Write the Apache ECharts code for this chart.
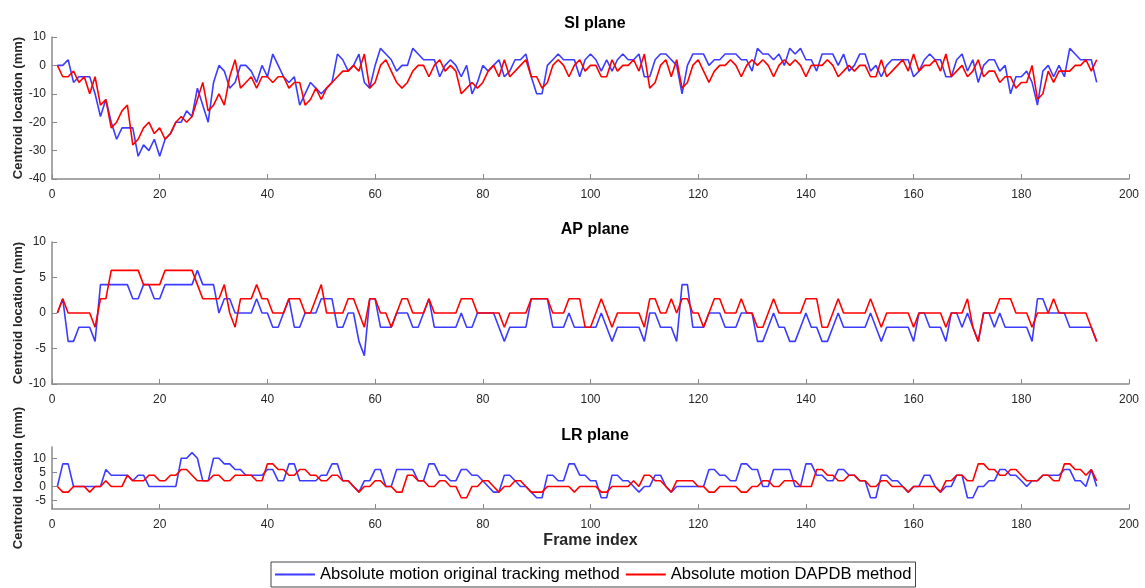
<!DOCTYPE html>
<html>
<head>
<meta charset="utf-8">
<script src="https://cdn.jsdelivr.net/npm/echarts@6/dist/echarts.min.js"></script>
<style>html,body{margin:0;padding:0;background:#fff;}#c{width:1145px;height:588px;}</style>
</head>
<body>
<div id="c"></div>
<script>
// Frame indices 1..194
const frames = [];
for (let i = 1; i <= 194; i++) frames.push(i);

const xTicks = [0, 20, 40, 60, 80, 100, 120, 140, 160, 180, 200];
const panelTitles = ['SI plane', 'AP plane', 'LR plane'];
const seriesNames = ['Absolute motion original tracking method', 'Absolute motion DAPDB method'];

const siOriginal = [0,0,2,-6,-4,-4,-4,-10,-18,-12, -20,-26,-22,-22,-22,-32,-28,-30,-26,-32, -26,-24,-20,-20,-16,-18,-8,-14,-20,-6, 0,-2,-8,-6,0,0,-2,-6,0,-4, 4,0,-4,-6,-4,-14,-10,-6,-8,-10,
  -8,-6,4,2,-2,0,4,-6,-8,0, 6,4,2,-2,0,0,6,4,2,2, 2,-4,0,2,0,-4,0,-10,-6,0, -2,0,2,-4,-2,2,2,4,-4,-10, -10,0,2,4,2,2,2,-4,2,4,
  2,-2,2,-2,2,4,2,2,4,-4, -4,2,4,4,2,0,-10,0,4,4, 4,0,2,2,4,4,4,2,2,-2, 6,4,4,2,4,0,6,4,6,2, 2,-2,4,4,4,0,4,-2,0,4,
  4,-2,0,-4,0,2,2,2,2,-4, -2,2,4,2,2,-4,-4,2,4,-2, 2,-6,0,2,2,-2,0,-10,-4,-4, -2,-6,-14,-2,0,-4,0,-4,6,4, 2,2,2,-6];
const siDapdb = [0,-4,-4,-2,-6,-4,-10,-4,-14,-12, -22,-20,-16,-14,-28,-26,-22,-20,-24,-22, -26,-24,-20,-18,-20,-18,-12,-6,-16,-14, -10,-14,-4,2,-8,-6,-4,-8,-4,-4, -6,-4,-4,-8,-6,-6,-14,-12,-8,-12,
  -8,-6,-4,-2,-2,0,-2,4,-8,-6, 0,2,-2,-6,-8,-6,-2,0,0,-4, 0,2,-2,0,-2,-10,-8,-6,-8,-6, -2,0,-4,2,-4,-2,0,2,-4,-4, -8,-6,0,2,0,-4,0,2,-2,0,
  0,-4,-4,2,-2,0,0,2,-2,4, -8,-6,0,2,-4,2,-8,-6,0,2, -2,-6,-2,0,0,2,0,-4,0,2, 0,2,0,-4,0,2,0,2,0,-4, 0,0,0,2,0,-4,-2,0,-2,0,
  0,-4,-4,2,-4,-2,0,2,-2,4, -2,0,0,2,-2,4,-4,-2,0,-4, -2,2,-4,-2,-2,-6,-4,-4,-8,-6, -6,0,-12,-10,-2,-6,-2,-2,-2,0, 0,2,-2,2];

const apOriginal = [0,2,-4,-4,-2,-2,-2,-4,4,4, 4,4,4,4,2,2,4,4,2,2, 4,4,4,4,4,4,6,4,4,4, 0,2,2,0,0,0,0,2,0,0, -2,-2,0,2,-2,-2,0,0,0,2,
  2,2,-2,-2,0,0,-4,-6,2,2, -2,-2,-2,0,0,0,-2,-2,0,2, -2,-2,-2,-2,-2,0,-2,-2,0,0, 0,0,-2,-4,-2,-2,-2,-2,2,2, 2,2,-2,-2,-2,0,-2,-2,-2,-2,
  -2,0,-2,-4,-2,-2,-2,-2,-2,-4, 0,0,-2,-2,-2,-4,4,4,-2,-2, -2,0,0,0,-2,-2,-2,0,0,0, -4,-4,-2,0,-2,-2,-4,-4,-2,0, -2,-2,-4,-4,-2,0,-2,-2,-2,-2,
  -2,0,-2,-4,-2,-2,-2,-2,-2,-4, 0,0,-2,-2,-2,-4,0,0,-2,0, -2,-4,0,0,-2,0,-2,-2,-2,-2, -2,-4,2,2,0,0,0,0,-2,-2, -2,-2,-2,-4];
const apDapdb = [0,2,0,0,0,0,0,-2,2,2, 6,6,6,6,6,6,4,4,4,4, 6,6,6,6,6,6,4,2,2,2, 2,4,0,-2,2,2,2,4,2,2, 0,0,0,2,2,2,0,0,2,4,
  0,0,0,0,2,2,0,-2,2,2, 0,0,-2,0,2,2,0,0,0,2, 0,0,0,0,0,2,2,2,0,0, 0,0,0,-2,0,0,0,0,2,2, 2,2,0,0,0,2,2,2,-2,-2,
  0,2,0,-2,0,0,0,0,0,-2, 2,2,0,0,2,0,2,2,0,0, -2,0,2,2,0,0,0,2,0,0, -2,-2,0,2,0,0,0,0,0,2, 2,2,-2,-2,0,2,0,0,0,0,
  0,2,0,-2,0,0,0,0,0,-2, 0,0,0,0,0,-2,0,0,0,2, -2,-4,0,0,0,2,2,2,0,0, 0,-2,0,0,0,2,0,0,0,0, 0,0,-2,-4];

const lrOriginal = [0,8,8,0,0,0,0,0,0,6, 4,4,4,4,2,4,4,0,0,0, 0,0,0,10,10,12,10,2,2,10, 10,8,8,6,6,4,4,4,4,6, 6,2,2,8,8,2,2,2,2,4,
  4,8,8,2,2,0,-2,2,2,6, 6,0,0,6,6,6,6,2,2,8, 8,4,4,2,2,6,6,4,4,2, 0,-2,-2,4,4,2,0,0,-2,-4, -4,4,4,2,2,8,8,4,4,2,
  2,-4,-4,4,4,2,2,0,-2,0, 0,4,4,0,-2,0,0,0,0,0, 0,6,6,4,4,2,2,8,8,6, 6,0,0,6,6,6,6,0,0,8, 8,4,4,2,2,6,6,4,4,2,
  2,-4,-4,4,4,2,2,0,-2,0, 0,4,4,0,-2,0,0,4,4,-4, -4,0,0,2,2,6,6,4,4,2, 0,2,2,4,4,4,4,6,6,2, 2,0,6,0];
const lrDapdb = [0,-2,-2,0,0,0,-2,0,0,2, 0,0,0,4,2,2,2,4,4,2, 2,4,4,6,6,4,2,2,2,4, 4,2,2,4,4,4,4,2,2,8, 8,6,6,4,4,6,6,4,4,2,
  2,4,4,2,2,0,-2,0,0,2, 2,0,0,-2,-2,4,4,2,2,0, 0,2,2,0,0,-4,-4,0,0,2, 2,0,-2,0,0,2,2,0,-2,-2, -2,0,0,0,0,0,-2,0,0,0,
  0,-2,-2,0,0,0,0,2,0,4, 4,2,2,0,-2,2,2,2,2,0, 0,-2,-2,0,0,0,0,-2,-2,0, 0,2,2,0,0,2,2,2,0,0, 0,6,6,4,4,2,2,4,4,2,
  2,0,0,2,2,0,0,0,-2,0, 0,0,0,0,-2,2,2,4,4,2, 2,8,8,6,6,4,4,6,6,4, 2,2,2,4,4,2,2,8,8,6, 6,4,6,2];

function pairs(vals) { return frames.map((f, i) => [f, vals[i]]); }

const BLUE = '#3c3cff';
const RED = '#ff0000';
const AXC = '#8a8a8a';
const TXT = '#262626';
const FONT = 'Liberation Sans, Arial, sans-serif';

const grids = [
  { left: 52, width: 1077, top: 37, height: 142, containLabel: false, outerBoundsMode: 'none' },
  { left: 52, width: 1077, top: 242, height: 142, containLabel: false, outerBoundsMode: 'none' },
  { left: 52, width: 1077, top: 447, height: 62, containLabel: false, outerBoundsMode: 'none' }
];

function xAxis(idx) {
  const a = {
    type: 'value', gridIndex: idx, min: 0, max: 200, interval: 20,
    axisLine: { show: true, onZero: false, lineStyle: { color: AXC, width: 1.5 } },
    axisTick: { show: true, inside: true, length: 5, lineStyle: { color: AXC, width: 1 } },
    axisLabel: { fontSize: 12, color: TXT, margin: 10, fontFamily: FONT },
    splitLine: { show: false }
  };
  if (idx === 2) {
    a.name = 'Frame index';
    a.nameLocation = 'middle';
    a.nameGap = 24;
    a.nameMoveOverlap = false;
    a.nameTextStyle = { fontSize: 16, fontWeight: 'bold', color: TXT, fontFamily: FONT };
  }
  return a;
}
function yAxis(idx, min, max, interval, custom) {
  const a = {
    type: 'value', gridIndex: idx, min: min, max: max,
    name: 'Centroid location (mm)', nameLocation: 'middle', nameGap: 27, nameRotate: 90,
    nameMoveOverlap: false,
    nameTextStyle: { fontSize: 13, fontWeight: 'bold', color: TXT, fontFamily: FONT },
    axisLine: { show: true, onZero: false, lineStyle: { color: AXC, width: 1.5 } },
    axisTick: { show: true, inside: true, length: 5, lineStyle: { color: AXC, width: 1 } },
    axisLabel: { fontSize: 12, color: TXT, margin: 6, fontFamily: FONT },
    splitLine: { show: false }
  };
  if (custom) {
    a.axisTick.customValues = custom;
    a.axisLabel.customValues = custom;
  } else {
    a.interval = interval;
  }
  return a;
}
function line(name, data, color, idx) {
  return {
    name: name, type: 'line', xAxisIndex: idx, yAxisIndex: idx,
    data: pairs(data), symbol: 'none', showSymbol: false,
    lineStyle: { color: color, width: 1.6 }, itemStyle: { color: color },
    animation: false
  };
}

const titleStyle = { fontSize: 16, fontWeight: 'bold', color: '#000', fontFamily: FONT };
const option = {
  animation: false,
  backgroundColor: '#fff',
  title: [
    { text: panelTitles[0], left: 590, top: 11, textAlign: 'center', textStyle: titleStyle },
    { text: panelTitles[1], left: 590, top: 217, textAlign: 'center', textStyle: titleStyle },
    { text: panelTitles[2], left: 590, top: 423, textAlign: 'center', textStyle: titleStyle }
  ],
  legend: {
    data: seriesNames, bottom: 1, left: 271,
    icon: 'rect', itemWidth: 40, itemHeight: 2, itemGap: 6,
    borderColor: '#444', borderWidth: 1, padding: [4, 4],
    textStyle: { fontSize: 16.6, color: '#000', fontFamily: FONT }
  },
  grid: grids,
  xAxis: [xAxis(0), xAxis(1), xAxis(2)],
  yAxis: [yAxis(0, -40, 10, 10), yAxis(1, -10, 10, 5), yAxis(2, -8, 14, null, [-5, 0, 5, 10])],
  series: [
    line(seriesNames[0], siOriginal, BLUE, 0),
    line(seriesNames[1], siDapdb, RED, 0),
    line(seriesNames[0], apOriginal, BLUE, 1),
    line(seriesNames[1], apDapdb, RED, 1),
    line(seriesNames[0], lrOriginal, BLUE, 2),
    line(seriesNames[1], lrDapdb, RED, 2)
  ]
};

const chart = echarts.init(document.getElementById('c'), null, { renderer: 'canvas' });
chart.setOption(option);
</script>
</body>
</html>
